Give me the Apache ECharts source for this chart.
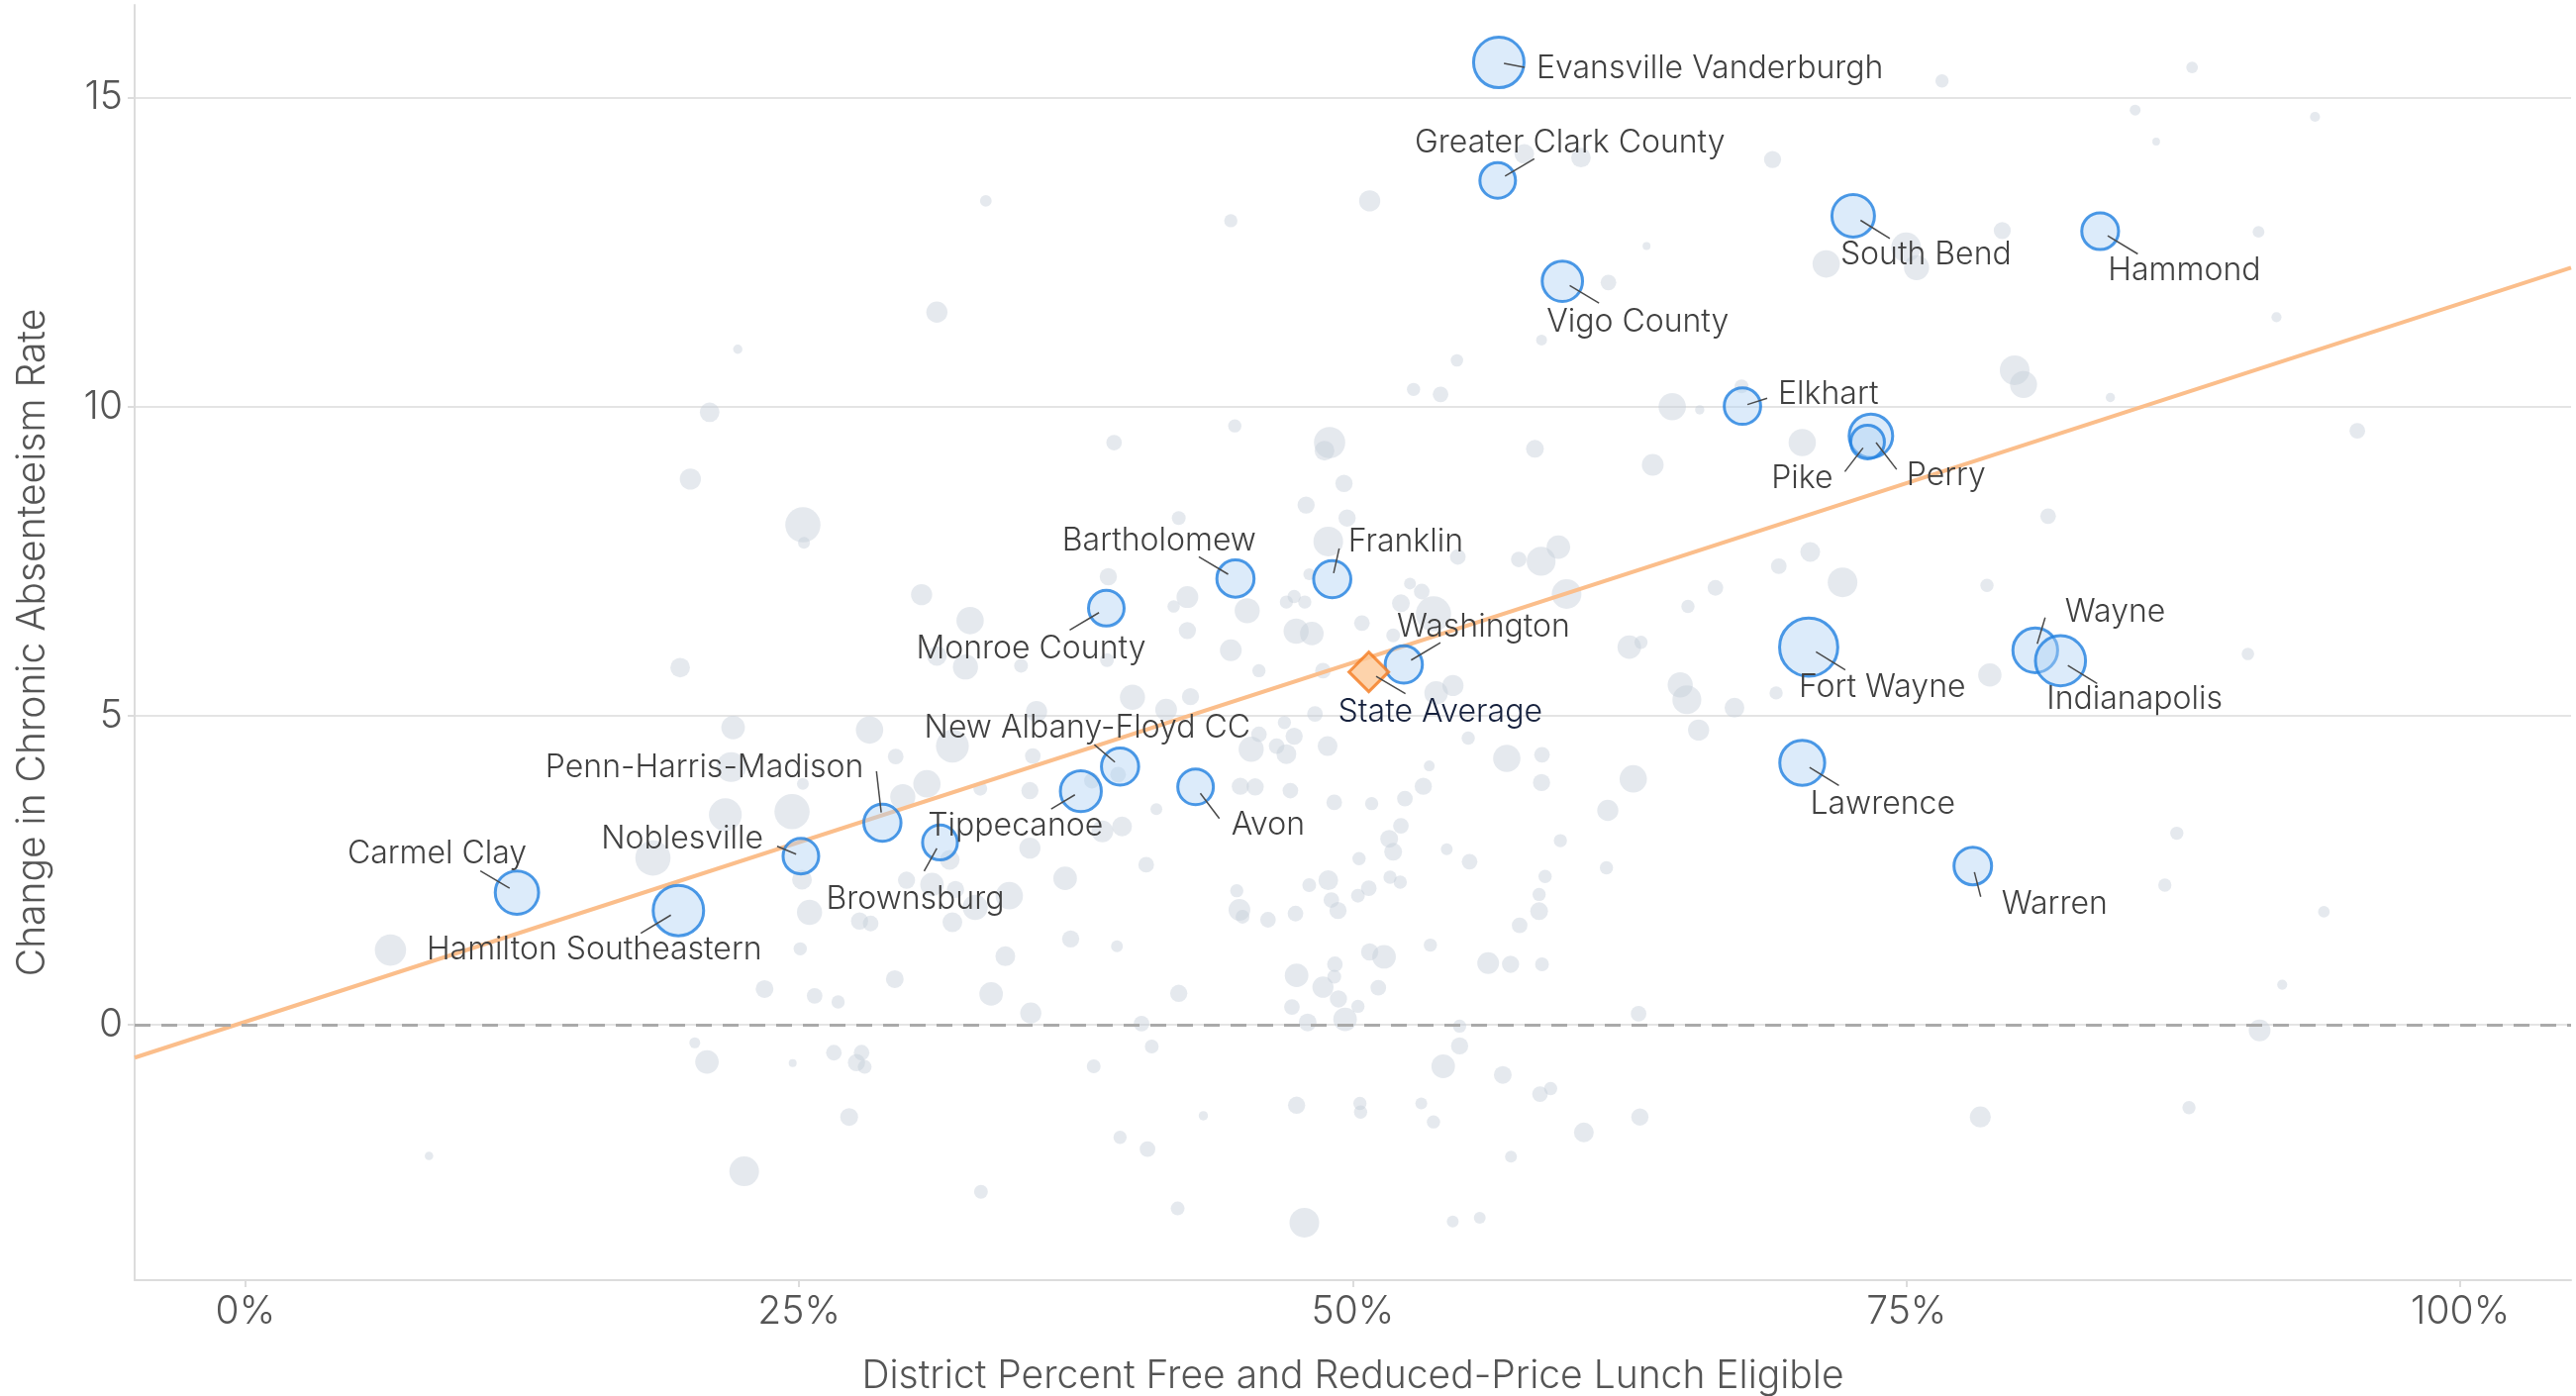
<!DOCTYPE html>
<html>
<head>
<meta charset="utf-8">
<title>Chronic Absenteeism vs Free and Reduced-Price Lunch</title>
<script src="https://cdn.jsdelivr.net/npm/echarts@6/dist/echarts.min.js"></script>
<style>
  html, body { margin: 0; padding: 0; background: #fff; }
  #chart { width: 2602px; height: 1410px; }
</style>
</head>
<body>
<div id="chart"></div>
<script>
// tick values
const xTicks = [0, 25, 50, 75, 100]
const yTicks = [0, 5, 10, 15]

// highlighted districts: [pct FRL, change in rate, bubble radius]
const districtNames = [
  'Evansville Vanderburgh', 'Greater Clark County', 'Vigo County', 'South Bend', 'Elkhart',
  'Hammond', 'Perry', 'Pike', 'Bartholomew', 'Franklin', 'Monroe County',
  'New Albany-Floyd CC', 'Tippecanoe', 'Brownsburg', 'Penn-Harris-Madison', 'Noblesville',
  'Avon', 'Washington', 'Fort Wayne', 'Lawrence', 'Wayne', 'Indianapolis', 'Warren',
  'Carmel Clay', 'Hamilton Southeastern'
]
const districtX = [56.59, 56.54, 59.46, 72.59, 67.59, 83.74, 73.39, 73.24, 44.70, 49.07, 38.87,
  39.49, 37.72, 31.36, 28.76, 25.08, 42.90, 52.30, 70.58, 70.29, 80.81, 81.95, 77.99, 12.26, 19.55]
const districtY = [15.57, 13.66, 12.03, 13.09, 10.01, 12.84, 9.53, 9.43, 7.22, 7.21, 6.74,
  4.18, 3.78, 2.95, 3.27, 2.73, 3.85, 5.83, 6.11, 4.24, 6.06, 5.89, 2.57, 2.14, 1.85]
const districtSize = [26.5, 19, 21.4, 22.5, 19.4, 19.6, 23, 18, 19.8, 19.8, 19,
  19.8, 21.7, 18.6, 19.8, 19, 19, 19.8, 30.4, 23.7, 23.6, 26.3, 20, 22.9, 26.5]

// state average
const stateAverage = [50.72, 5.71]

// fitted trend line endpoints
const trendLine = [[-5, -0.53], [105, 12.25]]

// all other districts: [pct FRL, change in rate, bubble radius]
const otherDistricts = [
  [22.23, 10.93, 4.7], [20.96, 9.91, 9.9],
  [33.43, 13.33, 5.9], [44.49, 13.01, 6.7], [31.22, 11.53, 10.7], [44.67, 9.69, 6.7],
  [76.60, 15.27, 6.7], [57.74, 14.09, 9.9], [60.30, 14.03, 9.9], [68.95, 14.00, 8.7], [50.76, 13.33, 10.7],
  [63.26, 12.60, 4], [71.37, 12.31, 13.8], [74.98, 12.58, 15], [75.45, 12.25, 12.7], [61.54, 12.01, 7.9],
  [58.52, 11.08, 5.5], [54.70, 10.75, 6.3], [52.74, 10.28, 6.7], [53.96, 10.20, 7.9], [64.42, 10.00, 13.8],
  [65.66, 9.95, 4.7], [67.55, 10.33, 7], [70.29, 9.42, 13.8],
  [87.89, 15.49, 5.9], [85.32, 14.80, 5.5], [93.44, 14.69, 5.1], [86.27, 14.29, 3.9], [79.32, 12.85, 8.6],
  [90.89, 12.83, 5.9], [91.70, 11.45, 5.1], [79.88, 10.59, 15], [80.28, 10.36, 13.7], [84.20, 10.15, 4.7],
  [95.35, 9.61, 7.9],
  [20.09, 8.83, 10.7], [19.63, 5.78, 9.9], [22.02, 4.81, 11.9], [21.93, 4.17, 15], [21.67, 3.40, 16.6],
  [18.40, 2.70, 17.8],
  [39.22, 9.42, 7.9], [48.95, 9.42, 15.8], [48.72, 9.29, 10], [49.60, 8.76, 8.7], [25.17, 8.09, 17.8],
  [25.22, 7.80, 6], [47.89, 8.41, 8.7], [42.14, 8.20, 7], [48.89, 7.82, 15], [49.74, 8.20, 8.7],
  [38.96, 7.25, 8.7], [30.53, 6.96, 10.7], [42.53, 6.92, 11], [41.91, 6.77, 6.3], [45.23, 6.70, 12.7],
  [47.00, 6.84, 6.7], [47.35, 6.93, 6.7], [47.83, 6.84, 6.7], [48.03, 7.29, 6], [32.72, 6.54, 13.8],
  [42.53, 6.38, 8.7], [47.44, 6.37, 12.7], [48.15, 6.33, 11.9], [44.49, 6.06, 11], [45.76, 5.73, 6.7],
  [48.65, 5.73, 7.9], [32.51, 5.79, 12.7], [31.22, 5.97, 10], [35.02, 5.81, 7], [38.90, 5.90, 7],
  [40.05, 5.30, 12.7], [42.67, 5.31, 8.7], [35.72, 5.07, 10.7], [41.57, 5.10, 11], [48.29, 5.03, 7.9],
  [46.91, 4.89, 6.7], [45.76, 4.70, 7.9], [47.35, 4.67, 8.7], [48.86, 4.51, 10], [45.41, 4.46, 12.7],
  [46.56, 4.51, 7.9], [47.00, 4.38, 10], [28.18, 4.77, 13.8], [31.92, 4.51, 16.6], [29.36, 4.34, 7.9],
  [35.55, 4.35, 7.9], [30.77, 3.90, 13.8], [29.68, 3.69, 12.7], [24.68, 3.45, 17.8], [25.17, 3.90, 6],
  [33.18, 3.82, 7], [35.42, 3.79, 8.7], [38.22, 3.95, 7.9], [39.40, 4.05, 7.9], [44.92, 3.86, 8.7],
  [45.59, 3.85, 8.7], [47.18, 3.79, 7.9], [49.16, 3.60, 7.9], [41.13, 3.49, 6], [39.58, 3.21, 10],
  [38.69, 3.13, 11], [35.42, 2.86, 10.7], [31.80, 2.67, 10], [40.67, 2.59, 7.9],
  [58.22, 9.32, 9], [63.54, 9.06, 11], [59.28, 7.73, 11.9], [58.50, 7.50, 14.6], [57.49, 7.53, 7.9],
  [54.74, 7.57, 7.9], [52.58, 7.14, 6], [53.11, 7.01, 7.9], [52.17, 6.82, 9], [53.64, 6.65, 17.8],
  [59.65, 6.97, 15], [66.37, 7.07, 7.9], [65.13, 6.77, 6.7], [70.65, 7.65, 10], [69.23, 7.42, 7.9],
  [72.11, 7.16, 15], [50.41, 6.50, 7.9], [51.82, 6.30, 7], [62.48, 6.11, 11.9], [63.01, 6.19, 6.7],
  [54.52, 5.49, 10.7], [53.76, 5.37, 11.9], [64.78, 5.50, 12.7], [65.08, 5.26, 14.6], [67.23, 5.13, 10],
  [69.11, 5.37, 6.7], [65.61, 4.77, 10.7], [55.21, 4.64, 6.7], [56.95, 4.31, 13.8], [58.54, 4.37, 7.9],
  [53.45, 4.19, 5.5], [53.18, 3.86, 8.7], [58.52, 3.92, 8.7], [62.66, 3.98, 13.8], [52.35, 3.66, 7.9],
  [50.85, 3.58, 6.7], [61.51, 3.47, 10.7], [52.17, 3.22, 7.9], [51.64, 3.01, 9], [51.82, 2.80, 9],
  [59.37, 2.98, 6.7], [54.24, 2.84, 6], [50.28, 2.69, 6.7], [55.27, 2.64, 7.9], [61.45, 2.54, 6.7],
  [81.39, 8.23, 7.9], [78.63, 7.11, 6.7], [78.76, 5.66, 11.8], [90.41, 6.00, 6.3], [87.20, 3.10, 6.7],
  [6.55, 1.21, 15.8], [20.29, -0.29, 5.5], [20.84, -0.60, 11.9], [8.29, -2.12, 4.3], [22.52, -2.37, 15],
  [25.13, 2.35, 10], [29.85, 2.34, 8.7], [31.00, 2.27, 11.9], [32.06, 2.19, 8.7], [32.95, 1.90, 12.7],
  [34.49, 2.09, 13.8], [37.01, 2.37, 11.9], [25.47, 1.82, 12.7], [27.73, 1.68, 8.7], [28.23, 1.64, 7.9],
  [31.92, 1.66, 10], [25.05, 1.23, 6.7], [34.31, 1.11, 10], [37.26, 1.39, 8.7], [39.35, 1.27, 6],
  [44.76, 2.17, 6.7], [44.88, 1.86, 11], [45.02, 1.75, 7], [46.17, 1.70, 7.9], [47.41, 1.80, 7.9],
  [48.03, 2.26, 7], [48.89, 2.34, 10], [49.03, 2.02, 7.9], [49.33, 1.85, 8.7], [23.44, 0.58, 9],
  [25.70, 0.47, 7.9], [26.76, 0.37, 6.7], [29.32, 0.74, 9], [33.67, 0.50, 11.9], [35.46, 0.19, 10.7],
  [42.14, 0.51, 8.7], [40.46, 0.02, 7.9], [49.19, 0.98, 7.9], [49.16, 0.78, 7], [48.65, 0.61, 10.7],
  [49.35, 0.42, 8.7], [47.46, 0.80, 11.9], [47.25, 0.29, 7.9], [47.96, 0.04, 9], [49.65, 0.09, 11.9],
  [40.92, -0.35, 7], [26.57, -0.45, 7.9], [27.82, -0.45, 7.9], [27.59, -0.61, 8.7], [27.96, -0.68, 7],
  [24.71, -0.62, 4], [38.30, -0.67, 7], [47.46, -1.30, 8.7], [43.25, -1.47, 4.7], [27.26, -1.49, 9],
  [39.49, -1.82, 6.7], [40.73, -2.01, 7.9], [33.21, -2.70, 7], [42.09, -2.97, 7], [47.81, -3.20, 15],
  [51.68, 2.39, 6.7], [52.14, 2.31, 6.7], [50.72, 2.21, 7.9], [50.23, 2.09, 7], [58.68, 2.40, 6.7],
  [58.41, 2.11, 6.7], [58.41, 1.84, 9], [57.53, 1.61, 7.9], [53.50, 1.29, 6.7], [50.76, 1.18, 8.7],
  [51.41, 1.10, 11.9], [56.11, 1.00, 11], [57.12, 0.98, 8.7], [58.54, 0.98, 7], [51.15, 0.60, 7.9],
  [50.23, 0.30, 6.7], [62.90, 0.18, 7.9], [54.82, -0.02, 6.7], [54.82, -0.34, 8.7], [54.08, -0.67, 11.9],
  [56.77, -0.81, 9], [50.32, -1.27, 6.7], [50.35, -1.41, 6.7], [53.09, -1.27, 6], [53.64, -1.57, 6.7],
  [58.45, -1.12, 7.9], [58.93, -1.03, 6.7], [62.96, -1.49, 8.7], [60.43, -1.74, 10], [57.14, -2.13, 6],
  [54.51, -3.18, 6], [55.73, -3.12, 6],
  [86.66, 2.26, 6.7], [93.84, 1.83, 5.9], [91.96, 0.65, 5.1], [90.94, -0.09, 11], [78.33, -1.49, 10.6],
  [87.75, -1.34, 6.7]
]

// label placement (pixel offsets from the point) and leader line end
const labelLayout = {
  'Evansville Vanderburgh': { dx: 38, dy: 6, align: 'left', line: [26, 5] },
  'Greater Clark County': { dx: 73, dy: -38, align: 'center', line: [37, -22] },
  'Vigo County': { dx: -16, dy: 41, align: 'left', line: [37, 22] },
  'South Bend': { dx: -13, dy: 39, align: 'left', line: [37, 23] },
  'Elkhart': { dx: 36, dy: -12, align: 'left', line: [25, -8] },
  'Hammond': { dx: 8, dy: 40, align: 'left', line: [38, 23] },
  'Perry': { dx: 36, dy: 40, align: 'left', line: [26, 34] },
  'Pike': { dx: -35, dy: 37, align: 'right', line: [-23, 30] },
  'Bartholomew': { dx: 21, dy: -38, align: 'right', line: [-37, -22] },
  'Franklin': { dx: 16, dy: -38, align: 'left', line: [7, -31] },
  'Monroe County': { dx: 40, dy: 41, align: 'right', line: [-37, 22] },
  'New Albany-Floyd CC': { dx: -33, dy: -39, align: 'center', line: [-26, -22] },
  'Tippecanoe': { dx: -66, dy: 35, align: 'center', line: [-30, 18] },
  'Brownsburg': { dx: -25, dy: 57, align: 'center', line: [-16, 29] },
  'Penn-Harris-Madison': { dx: -19, dy: -56, align: 'right', line: [-6, -52] },
  'Noblesville': { dx: -38, dy: -17, align: 'right', line: [-24, -10] },
  'Avon': { dx: 36, dy: 39, align: 'left', line: [24, 32] },
  'Washington': { dx: -7, dy: -38, align: 'left', line: [37, -22] },
  'Fort Wayne': { dx: -10, dy: 41, align: 'left', line: [37, 23] },
  'Lawrence': { dx: 8, dy: 42, align: 'left', line: [37, 23] },
  'Wayne': { dx: 30, dy: -38, align: 'left', line: [10, -33] },
  'Indianapolis': { dx: -14, dy: 39, align: 'left', line: [37, 23] },
  'Warren': { dx: 29, dy: 39, align: 'left', line: [8, 31] },
  'Carmel Clay': { dx: 10, dy: -39, align: 'right', line: [-37, -22] },
  'Hamilton Southeastern': { dx: -85, dy: 40, align: 'center', line: [-38, 23] },
  'State Average': { dx: -31, dy: 41, align: 'left', line: [37, 22] }
}

const fontFamily = 'Inter, Roboto, sans-serif'

const highlightData = districtNames.map((n, i) => [districtX[i], districtY[i], districtSize[i]])
const labelNames = districtNames.concat(['State Average'])
const labelData = highlightData.map(d => [d[0], d[1]]).concat([stateAverage])

const chart = echarts.init(document.getElementById('chart'))

const renderLabel = (params, api) => {
  const name = labelNames[params.dataIndex]
  const lay = labelLayout[name]
  const p = api.coord([api.value(0), api.value(1)])
  const isState = name === 'State Average'
  return {
    type: 'group',
    children: [
      {
        type: 'line',
        shape: {
          x1: p[0] + lay.line[0] * 0.2, y1: p[1] + lay.line[1] * 0.2,
          x2: p[0] + lay.line[0], y2: p[1] + lay.line[1]
        },
        style: { stroke: '#4a4a4a', lineWidth: 1.5 }
      },
      {
        type: 'text',
        x: p[0] + lay.dx,
        y: p[1] + lay.dy,
        style: {
          text: name,
          fill: isState ? '#16213d' : '#404040',
          fontSize: 32,
          fontWeight: 300,
          fontFamily: fontFamily,
          align: lay.align,
          verticalAlign: 'middle'
        }
      }
    ]
  }
}

const option = {
  animation: false,
  backgroundColor: '#fff',
  textStyle: { fontFamily: fontFamily },
  grid: { left: 136, right: 5, top: 5, bottom: 117, containLabel: false, outerBoundsMode: 'none' },
  xAxis: {
    type: 'value',
    min: -5,
    max: 105,
    name: 'District Percent Free and Reduced-Price Lunch Eligible',
    nameLocation: 'middle',
    nameGap: 78,
    nameTextStyle: { fontSize: 39, fontWeight: 300, color: '#555', fontFamily: fontFamily },
    axisLine: { show: true, onZero: false, lineStyle: { color: '#dcdcdc', width: 2 } },
    axisTick: { show: true, length: 7, customValues: xTicks, lineStyle: { color: '#dcdcdc', width: 2 } },
    axisLabel: {
      customValues: xTicks,
      formatter: '{value}%',
      margin: 13,
      fontSize: 39,
      fontWeight: 300,
      color: '#555',
      fontFamily: fontFamily
    },
    splitLine: { show: false }
  },
  yAxis: {
    type: 'value',
    min: -4.13,
    max: 16.5,
    name: 'Change in Chronic Absenteeism Rate',
    nameLocation: 'middle',
    nameGap: 83,
    nameTextStyle: { fontSize: 39, fontWeight: 300, color: '#555', fontFamily: fontFamily },
    axisLine: { show: true, onZero: false, lineStyle: { color: '#dcdcdc', width: 2 } },
    axisTick: { show: true, length: 7, customValues: yTicks, lineStyle: { color: '#dcdcdc', width: 2 } },
    axisLabel: {
      customValues: yTicks,
      margin: 12,
      fontSize: 39,
      fontWeight: 300,
      color: '#555',
      fontFamily: fontFamily
    },
    splitLine: { show: true, lineStyle: { color: '#e4e4e4', width: 2 } }
  },
  series: [
    {
      name: 'Other districts',
      type: 'scatter',
      data: otherDistricts,
      symbolSize: d => d[2] * 2,
      itemStyle: { color: 'rgba(196, 205, 216, 0.55)' },
      silent: true,
      z: 1,
      markLine: {
        silent: true,
        symbol: 'none',
        label: { show: false },
        lineStyle: { type: [16, 11], color: '#aaa', width: 3 },
        data: [{ yAxis: 0 }]
      }
    },
    {
      name: 'Trend',
      type: 'line',
      data: trendLine,
      showSymbol: false,
      silent: true,
      lineStyle: { color: '#fbbe8b', width: 4 },
      z: 2
    },
    {
      name: 'Highlighted districts',
      type: 'scatter',
      data: highlightData,
      symbolSize: d => d[2] * 2 - 2,
      itemStyle: {
        color: 'rgba(175, 210, 243, 0.55)',
        borderColor: '#1f7fe0',
        borderWidth: 3
      },
      silent: true,
      z: 3
    },
    {
      name: 'State Average',
      type: 'scatter',
      data: [stateAverage],
      symbol: 'diamond',
      symbolSize: 40,
      itemStyle: { color: '#fdc896', borderColor: '#f47a1f', borderWidth: 3 },
      silent: true,
      z: 4
    },
    {
      name: 'Labels',
      type: 'custom',
      data: labelData,
      renderItem: renderLabel,
      silent: true,
      z: 5
    }
  ]
}

chart.setOption(option)
window.addEventListener('resize', () => chart.resize())
</script>
</body>
</html>
